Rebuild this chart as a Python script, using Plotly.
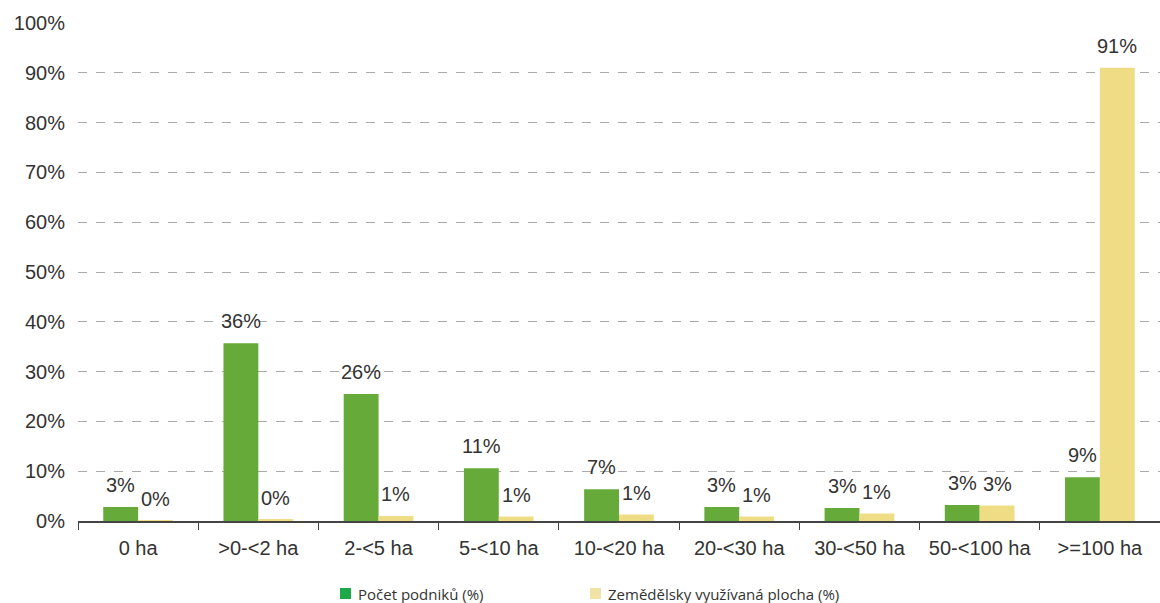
import plotly.graph_objects as go

categories = ['0 ha', '>0-<2 ha', '2-<5 ha', '5-<10 ha', '10-<20 ha',
              '20-<30 ha', '30-<50 ha', '50-<100 ha', '>=100 ha']
podniky = [2.8, 35.7, 25.5, 10.6, 6.4, 2.8, 2.6, 3.2, 8.8]
plocha = [0.05, 0.3, 1.0, 0.9, 1.3, 0.9, 1.5, 3.1, 91.0]
podniky_labels = ['3%', '36%', '26%', '11%', '7%', '3%', '3%', '3%', '9%']
plocha_labels = ['0%', '0%', '1%', '1%', '1%', '1%', '1%', '3%', '91%']
series_names = ['Počet podniků (%)', 'Zemědělsky využívaná plocha (%)']

label_font = dict(family='Arial', size=20, color='#333333')

# plot area in pixels, used to place the hand-made legend
LEFT, TOP, BOTTOM, WIDTH = 78, 23, 521, 1082
HEIGHT = BOTTOM - TOP
BAR_GAP = 0.42
# half a bar width in pixels: labels sit over the centre of each bar
HALF_BAR = WIDTH / len(categories) * (1 - BAR_GAP) / 4

def px_x(px):
	return (px - LEFT) / WIDTH

def px_y(py):
	return (BOTTOM - py) / HEIGHT

fig = go.Figure()

fig.add_trace(go.Bar(
	x=categories, y=podniky, name=series_names[0],
	marker=dict(color='#66ab3a', line=dict(width=0))
))

fig.add_trace(go.Bar(
	x=categories, y=plocha, name=series_names[1],
	marker=dict(color='#efdd85', line=dict(width=0))
))

# value labels, a bit higher above the bars than plotly's own outside text
for values, labels, shift in [(podniky, podniky_labels, -HALF_BAR), (plocha, plocha_labels, HALF_BAR)]:
	for cat, val, lab in zip(categories, values, labels):
		fig.add_annotation(
			x=cat, y=val, text=lab, showarrow=False,
			xshift=shift, yshift=22, yanchor='middle',
			font=label_font
		)

# legend drawn by hand: swatch colours differ from the bars in the original
legend_items = [
	(340, '#1fa84a', series_names[0]),
	(590, '#f1e3a6', series_names[1]),
]
for sx, color, name in legend_items:
	fig.add_shape(
		type='rect', xref='paper', yref='paper',
		x0=px_x(sx), x1=px_x(sx + 11),
		y0=px_y(599), y1=px_y(588),
		fillcolor=color, line=dict(width=0)
	)
	fig.add_annotation(
		xref='paper', yref='paper',
		x=px_x(sx + 16), y=px_y(594),
		xanchor='left', yanchor='middle',
		text=name, showarrow=False,
		font=dict(family='Open Sans', size=15, color='#333333')
	)

fig.update_layout(
	width=1160,
	height=603,
	margin=dict(l=LEFT, r=0, t=TOP, b=603 - BOTTOM),
	paper_bgcolor='white',
	plot_bgcolor='white',
	barmode='group',
	bargap=BAR_GAP,
	bargroupgap=0,
	showlegend=False,
	font=dict(family='Arial', size=20, color='#333333'),
	xaxis=dict(
		type='category',
		automargin=False,
		showline=True, linecolor='#444444', linewidth=1.5,
		ticks='outside', tickson='boundaries', ticklen=7,
		tickcolor='#444444',
		showgrid=False, ticklabelstandoff=8,
		tickfont=dict(family='Arial', size=20, color='#333333')
	),
	yaxis=dict(
		range=[0, 100],
		dtick=10,
		ticksuffix='%',
		automargin=False,
		showgrid=True, gridcolor='#aaaaaa', griddash='dash', gridwidth=1.2,
		zeroline=False,
		ticks='', ticklabelstandoff=12,
		tickfont=dict(family='Arial', size=20, color='#333333')
	)
)

fig.write_html(
	'out.html',
	config={'displayModeBar': False},
	post_script="document.body.style.margin='0';"
)
